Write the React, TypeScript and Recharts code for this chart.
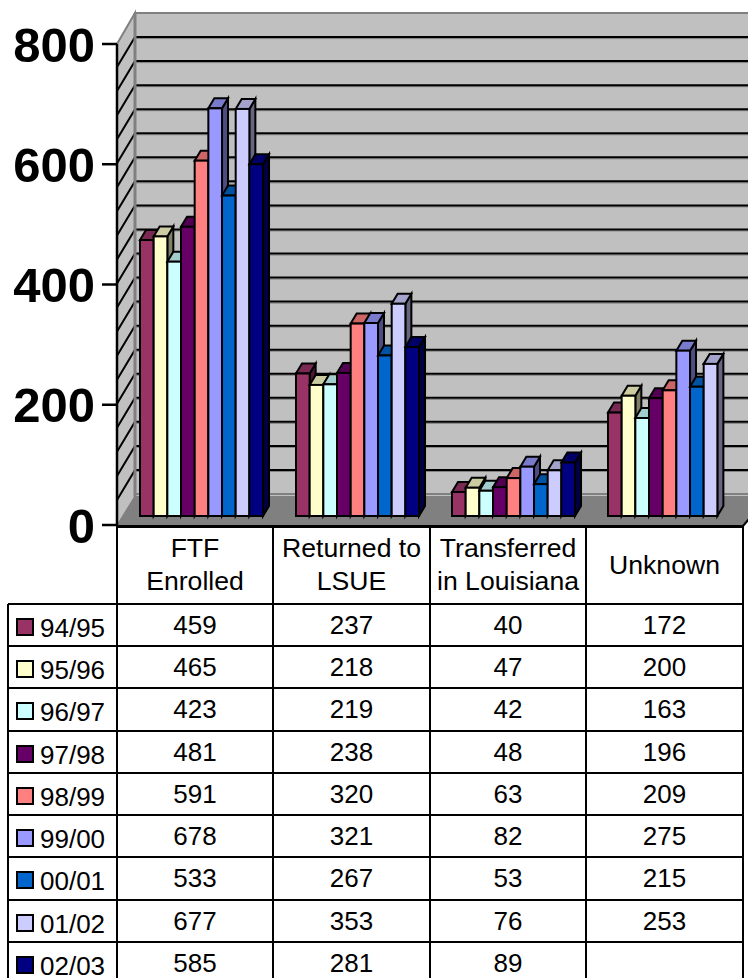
import React from "react";
import { BarChart, Bar, XAxis, YAxis } from "recharts";

const categories = ["FTF Enrolled", "Returned to LSUE", "Transferred in Louisiana", "Unknown"];
const headerLines = [["FTF", "Enrolled"], ["Returned to", "LSUE"], ["Transferred", "in Louisiana"], ["Unknown"]];
const yTicks = [0, 200, 400, 600, 800];
const seasons = ["94/95", "95/96", "96/97", "97/98", "98/99", "99/00", "00/01", "01/02", "02/03"];

const s9495 = [459, 237, 40, 172];
const s9596 = [465, 218, 47, 200];
const s9697 = [423, 219, 42, 163];
const s9798 = [481, 238, 48, 196];
const s9899 = [591, 320, 63, 209];
const s9900 = [678, 321, 82, 275];
const s0001 = [533, 267, 53, 215];
const s0102 = [677, 353, 76, 253];
const s0203 = [585, 281, 89, null];
const seriesValues = [s9495, s9596, s9697, s9798, s9899, s9900, s0001, s0102, s0203];

const chartData = categories.map((name, i) => {
    const row: any = { name };
    seasons.forEach((s, j) => { row[s] = seriesValues[j][i]; });
    return row;
});

const colors = ["#993366", "#FFFFCC", "#CCFFFF", "#660066", "#FF8080", "#9999FF", "#0066CC", "#CCCCFF", "#000080"];
const topColors = ["#7A2952", "#CCCCA3", "#A3CCCC", "#520052", "#CC6666", "#7A7ACC", "#0052A3", "#A3A3CC", "#000066"];
const sideColors = ["#4D1933", "#808066", "#668080", "#330033", "#804040", "#4D4D80", "#003366", "#666680", "#000040"];

const FONT = '"Liberation Sans", Arial, sans-serif';
const DX = 6;
const DY = 10;
const columnEdges = [117, 273, 430, 586, 743];
const rowEdges = [604, 646, 688, 731, 773, 815, 857, 900, 942];

// 3D box: front face, top face, side face
const Box3D = (props: any) => {
    const { x, y, width, height, index, colorIndex } = props;
    if (height === undefined || height <= 0 || !Number.isFinite(y) || index < 0) return null;
    const r = x + width;
    const b = y + height;
    return (
        <g stroke="#000" strokeWidth={2} strokeLinejoin="miter">
            <polygon points={`${r},${y} ${r + DX},${y - DY} ${r + DX},${b - DY} ${r},${b}`} fill={sideColors[colorIndex]} />
            <polygon points={`${x},${y} ${x + DX},${y - DY} ${r + DX},${y - DY} ${r},${y}`} fill={topColors[colorIndex]} />
            <rect x={x} y={y} width={width} height={height} fill={colors[colorIndex]} />
        </g>
    );
};

const AxisTick = (props: any) => {
    const { y, payload } = props;
    return (
        <g>
            <line x1={102} x2={117} y1={y + 9} y2={y + 9} stroke="#000" strokeWidth={2.5} />
            <text x={95} y={y + 9} dy="0.36em" textAnchor="end" fontFamily={FONT} fontWeight="bold" fontSize={49} fill="#000">
                {payload.value}
            </text>
        </g>
    );
};

// back wall, side wall and floor of the 3D box
const Wall = () => {
    const lines = [];
    for (let k = 1; k < 20; k++) lines.push(13 + k * 24.05);
    return (
        <g>
            <rect x={135} y={13} width={625} height={484} fill="#C0C0C0" stroke="#808080" strokeWidth={2} />
            <polygon points="117,44 135,13 135,497 117,526" fill="#C0C0C0" stroke="#808080" strokeWidth={2} />
            {lines.map((y) => (
                <g key={y}>
                    <line x1={135} x2={760} y1={y + 1.5} y2={y + 1.5} stroke="#808080" strokeWidth={1} />
                    <line x1={135} x2={760} y1={y} y2={y} stroke="#000" strokeWidth={2} />
                    <line x1={117} x2={135} y1={y + 30} y2={y} stroke="#000" strokeWidth={2} />
                </g>
            ))}
            <polygon points="117,526 135,497 760,497 760,506 743,526" fill="#808080" stroke="#808080" />
            <line x1={743} x2={760} y1={526} y2={506} stroke="#000" strokeWidth={2} />
            <line x1={135} x2={760} y1={494} y2={494} stroke="#808080" strokeWidth={2} />
            <line x1={135} x2={135} y1={13} y2={497} stroke="#808080" strokeWidth={3} />
            <line x1={117} x2={117} y1={44} y2={526} stroke="#000" strokeWidth={2.5} />
        </g>
    );
};

const lineStyle = (x: number, y: number, w: number, h: number): React.CSSProperties => ({
    position: "absolute", left: x, top: y, width: w, height: h, background: "#000",
});

const DataTable = () => {
    const textStyle: React.CSSProperties = {
        position: "absolute", fontFamily: FONT, fontSize: 26, color: "#000", textAlign: "center", whiteSpace: "nowrap",
    };
    return (
        <>
            <div style={lineStyle(117, 525, 627, 3)} />
            {columnEdges.map((x) => <div key={x} style={lineStyle(x - 1, 526, 2, 452)} />)}
            <div style={lineStyle(7, 604, 2, 374)} />
            {rowEdges.map((y) => <div key={y} style={lineStyle(8, y - 1, 735, 2)} />)}
            {headerLines.map((lines, c) => (
                <div key={c} style={{ ...textStyle, fontSize: 26.6, left: columnEdges[c], width: columnEdges[c + 1] - columnEdges[c], top: 526, height: 78, display: "flex", flexDirection: "column", justifyContent: "center", lineHeight: "33px" }}>
                    {lines.map((l) => <div key={l}>{l}</div>)}
                </div>
            ))}
            {seasons.map((s, r) => (
                <React.Fragment key={s}>
                    <div style={{ position: "absolute", left: 16, top: rowEdges[r] + 14, width: 18, height: 18, boxSizing: "border-box", border: "2px solid #000", background: colors[r] }} />
                    <div style={{ ...textStyle, left: 40, top: rowEdges[r] + 13, lineHeight: "22px" }}>{s}</div>
                    {seriesValues[r].map((v, c) => (
                        <div key={c} style={{ ...textStyle, left: columnEdges[c], width: columnEdges[c + 1] - columnEdges[c], top: rowEdges[r] + 10, lineHeight: "22px" }}>
                            {v}
                        </div>
                    ))}
                </React.Fragment>
            ))}
        </>
    );
};

export default function App() {
    return (
        <div style={{ position: "fixed", left: 0, top: 0, width: 748, height: 978, overflow: "hidden", background: "#fff" }}>
            <div style={{ position: "absolute", left: 0, top: 0 }}>
                <BarChart
                    width={760}
                    height={570}
                    data={chartData}
                    margin={{ top: 35, right: 12, bottom: 54, left: 0 }}
                    barSize={13.67}
                    barGap={0}
                >
                    <Wall />
                    <XAxis dataKey="name" hide />
                    <YAxis
                        width={124}
                        domain={[0, 800]}
                        ticks={yTicks}
                        axisLine={false}
                        tickLine={false}
                        tick={<AxisTick />}
                        interval={0}
                    />
                    {seasons.map((s, j) => (
                        <Bar key={s} dataKey={s} isAnimationActive={false} shape={(p: any) => <Box3D {...p} colorIndex={j} />} />
                    ))}
                </BarChart>
            </div>
            <DataTable />
        </div>
    );
}
